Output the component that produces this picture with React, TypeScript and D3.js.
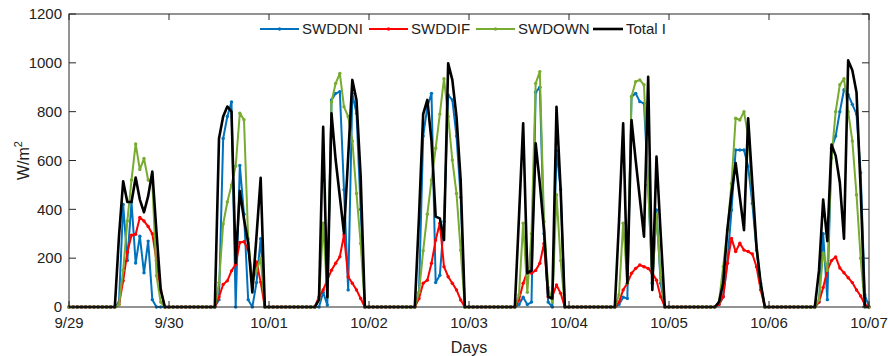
import React, { useEffect, useRef } from 'react';
import * as d3 from 'd3';

// hourly values, one row per day (hour 0..23), last value is 10/07 00:00
const swddni = [
  0,0,0,0,0,0,0,0,0,0,0, 0,20,420,190,430,180,290,140,270,30,0,0,0,
  0,0,0,0,0,0,0,0,0,0,0, 0,30,690,780,840,0,580,380,30,0,100,280,0,
  0,0,0,0,0,0,0,0,0,0,0, 0,0,60,8,848,875,882,480,70,875,793,400,0,
  0,0,0,0,0,0,0,0,0,0,0, 0,60,700,820,875,100,130,350,868,848,700,450,0,
  0,0,0,0,0,0,0,0,0,0,0, 0,10,40,10,20,880,900,300,20,0,640,480,0,
  0,0,0,0,0,0,0,0,0,0,0, 0,10,40,35,861,875,841,834,500,97,397,97,0,
  0,0,0,0,0,0,0,0,0,0,0, 0,10,42,179,397,643,643,643,575,424,233,97,0,
  0,0,0,0,0,0,0,0,0,0,0, 0,20,300,30,650,700,800,890,870,830,790,550,50,
  0,
];

const swddif = [
  0,0,0,0,0,0,0,0,0,0,0, 0,10,107,224,294,298,367,352,330,300,190,70,0,
  0,0,0,0,0,0,0,0,0,0,0, 0,41,92,107,148,175,264,267,237,114,184,102,0,
  0,0,0,0,0,0,0,0,0,0,0, 0,42,70,110,151,179,206,295,124,97,70,35,0,
  0,0,0,0,0,0,0,0,0,0,0, 0,35,97,110,179,274,343,165,124,97,70,29,0,
  0,0,0,0,0,0,0,0,0,0,0, 0,29,97,145,138,150,179,260,42,42,90,56,0,
  0,0,0,0,0,0,0,0,0,0,0, 0,20,70,97,138,158,172,165,158,138,110,42,0,
  0,0,0,0,0,0,0,0,0,0,0, 0,10,42,179,281,227,261,233,227,217,165,70,0,
  0,0,0,0,0,0,0,0,0,0,0, 0,20,80,150,190,205,160,140,120,100,70,45,10,
  0,
];

const swdown = [
  0,0,0,0,0,0,0,0,0,0,0, 0,10,150,352,520,668,563,608,520,510,128,20,0,
  0,0,0,0,0,0,0,0,0,0,0, 0,100,340,430,500,577,794,767,280,100,150,200,0,
  0,0,0,0,0,0,0,0,0,0,0, 0,30,343,42,840,916,957,820,780,680,465,260,0,
  0,0,0,0,0,0,0,0,0,0,0, 0,60,230,380,520,650,790,935,780,602,465,233,0,
  0,0,0,0,0,0,0,0,0,0,0, 0,50,343,60,300,916,964,350,80,20,460,190,0,
  0,0,0,0,0,0,0,0,0,0,0, 0,50,343,97,861,923,930,910,500,100,380,120,0,
  0,0,0,0,0,0,0,0,0,0,0, 0,20,165,315,506,773,766,800,700,470,250,90,0,
  0,0,0,0,0,0,0,0,0,0,0, 0,30,220,150,610,800,910,935,800,680,460,200,0,
  0,
];

const totalI = [
  0,0,0,0,0,0,0,0,0,0,0, 0,290,515,430,430,530,440,388,454,555,306,73,0,
  0,0,0,0,0,0,0,0,0,0,0, 0,690,780,821,800,180,475,359,264,60,290,529,0,
  0,0,0,0,0,0,0,0,0,0,0, 0,30,738,40,793,602,452,302,615,930,848,534,0,
  0,0,0,0,0,0,0,0,0,0,0, 0,370,790,848,680,370,363,274,998,930,780,520,0,
  0,0,0,0,0,0,0,0,0,0,0, 0,370,752,138,150,670,506,315,42,35,820,480,0,
  0,0,0,0,0,0,0,0,0,0,0, 0,350,752,97,766,602,445,288,943,70,616,300,0,
  0,0,0,0,0,0,0,0,0,0,0, 0,20,97,315,465,590,450,315,773,506,247,97,0,
  0,0,0,0,0,0,0,0,0,0,0, 0,150,440,270,665,620,510,280,1010,970,880,480,0,
  0,
];

const dayLabels = ['9/29', '9/30', '10/01', '10/02', '10/03', '10/04', '10/05', '10/06', '10/07'];
const yTicks = [0, 200, 400, 600, 800, 1000, 1200];

const seriesNames = ['SWDDNI', 'SWDDIF', 'SWDOWN', 'Total I'];
const seriesColors = ['#0072BD', '#FF0000', '#77AC30', '#000000'];

const App = () => {
  const svgRef = useRef<SVGSVGElement>(null);
  const width = 888;
  const height = 356;
  const margin = { left: 69, right: 19, top: 14, bottom: 49 };
  const font = '"Liberation Sans", Arial, sans-serif';

  useEffect(() => {
    const svg = d3.select(svgRef.current);
    svg.selectAll('*').remove();

    const x = d3.scaleLinear().domain([0, 24 * 8]).range([margin.left, width - margin.right]);
    const y = d3.scaleLinear().domain([0, 1200]).range([height - margin.bottom, margin.top]);

    const allSeries = [swddni, swddif, swdown, totalI];

    // lines
    allSeries.forEach((vals, si) => {
      const line = d3.line<number>().x((d, i) => x(i)).y(d => y(d));
      svg.append('path')
        .datum(vals)
        .attr('d', line)
        .attr('fill', 'none')
        .attr('stroke', seriesColors[si])
        .attr('stroke-width', si === 3 ? 2.6 : 2)
        .attr('stroke-linejoin', 'round');
      if (si < 3) {
        svg.append('g')
          .selectAll('circle')
          .data(vals)
          .join('circle')
          .attr('cx', (d, i) => x(i))
          .attr('cy', d => y(d))
          .attr('r', 1.7)
          .attr('fill', seriesColors[si]);
      }
    });

    // box and ticks
    const [x0, x1] = x.range();
    const [y0, y1] = y.range();
    const axisColor = '#262626';
    svg.append('rect')
      .attr('x', x0).attr('y', y1)
      .attr('width', x1 - x0).attr('height', y0 - y1)
      .attr('fill', 'none').attr('stroke', axisColor).attr('stroke-width', 1);

    const xt = svg.append('g');
    dayLabels.forEach((lab, i) => {
      const px = x(i * 24);
      xt.append('line').attr('x1', px).attr('x2', px).attr('y1', y0).attr('y2', y0 - 6).attr('stroke', axisColor);
      xt.append('line').attr('x1', px).attr('x2', px).attr('y1', y1).attr('y2', y1 + 6).attr('stroke', axisColor);
      xt.append('text')
        .attr('x', px).attr('y', y0 + 21)
        .attr('text-anchor', 'middle')
        .attr('font-family', font).attr('font-size', 15).attr('fill', '#222')
        .text(lab);
    });

    const yt = svg.append('g');
    yTicks.forEach(v => {
      const py = y(v);
      yt.append('line').attr('x1', x0).attr('x2', x0 + 7).attr('y1', py).attr('y2', py).attr('stroke', axisColor);
      yt.append('line').attr('x1', x1).attr('x2', x1 - 7).attr('y1', py).attr('y2', py).attr('stroke', axisColor);
      yt.append('text')
        .attr('x', x0 - 7).attr('y', py)
        .attr('dy', '0.35em')
        .attr('text-anchor', 'end')
        .attr('font-family', font).attr('font-size', 15).attr('fill', '#222')
        .text(v);
    });

    // axis labels
    svg.append('text')
      .attr('x', (x0 + x1) / 2).attr('y', height - 3)
      .attr('text-anchor', 'middle')
      .attr('font-family', font).attr('font-size', 16).attr('fill', '#222')
      .text('Days');

    const yl = svg.append('text')
      .attr('transform', `translate(29, ${(y0 + y1) / 2}) rotate(-90)`)
      .attr('text-anchor', 'middle')
      .attr('font-family', font).attr('font-size', 16).attr('fill', '#222');
    yl.append('tspan').text('W/m');
    yl.append('tspan').attr('dy', -7).attr('font-size', 11).text('2');

    // legend
    const legendX = [260, 369, 476, 593];
    const legend = svg.append('g');
    seriesNames.forEach((name, i) => {
      const lx = legendX[i];
      const ly = 29;
      const len = i === 3 ? 30 : 39;
      legend.append('line')
        .attr('x1', lx).attr('x2', lx + len).attr('y1', ly).attr('y2', ly)
        .attr('stroke', seriesColors[i]).attr('stroke-width', i === 3 ? 2.6 : 2);
      if (i < 3) {
        legend.append('circle').attr('cx', lx + len / 2).attr('cy', ly).attr('r', 1.7).attr('fill', seriesColors[i]);
      }
      legend.append('text')
        .attr('x', lx + len + 3).attr('y', ly).attr('dy', '0.35em')
        .attr('font-family', font).attr('font-size', 15).attr('fill', '#222')
        .text(name);
    });
  }, []);

  return (
    <svg ref={svgRef} width={width} height={height}
      style={{ position: 'absolute', left: 0, top: 0, background: '#fff' }}>
      <title>Solar irradiance 9/29 - 10/07</title>
    </svg>
  );
};

export default App;
